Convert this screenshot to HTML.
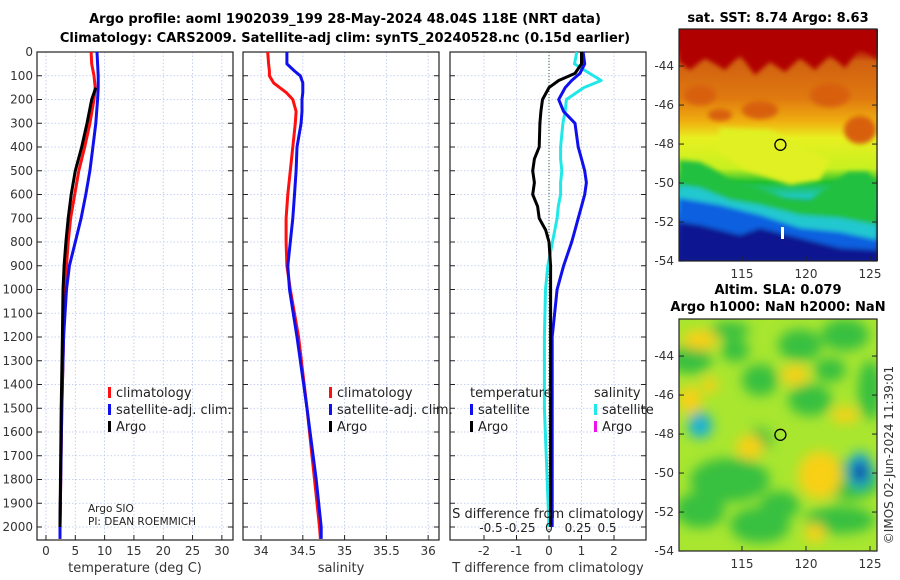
<!DOCTYPE html>
<html><head><meta charset="utf-8"><style>
html,body{margin:0;padding:0;background:#fff;}
svg{display:block;font-family:"DejaVu Sans","Liberation Sans",sans-serif;}
</style></head><body>
<svg id="fig" width="900" height="580" viewBox="0 0 900 580" xmlns="http://www.w3.org/2000/svg">
<defs>
<filter id="blur6" x="-20%" y="-20%" width="140%" height="140%"><feGaussianBlur stdDeviation="6"/></filter>
<filter id="blur3"><feGaussianBlur stdDeviation="2.5"/></filter>
<clipPath id="m1clip"><rect x="679" y="29" width="199" height="232"/></clipPath>
<clipPath id="m2clip"><rect x="679" y="319" width="198" height="232"/></clipPath>
<linearGradient id="sstgrad" x1="0" y1="0" x2="0" y2="1">
<stop offset="0" stop-color="#a80000"/><stop offset="0.08" stop-color="#b00000"/>
<stop offset="0.14" stop-color="#d06010"/><stop offset="0.3" stop-color="#e07a10"/>
<stop offset="0.4" stop-color="#f0b010"/><stop offset="0.47" stop-color="#e8f020"/>
<stop offset="0.6" stop-color="#c8f020"/><stop offset="0.66" stop-color="#20c030"/>
<stop offset="0.72" stop-color="#20c8c0"/><stop offset="0.78" stop-color="#10a0f0"/>
<stop offset="0.84" stop-color="#1040d0"/><stop offset="0.92" stop-color="#0a1fa0"/>
<stop offset="1" stop-color="#0a1888"/></linearGradient>
</defs>
<g font-weight="bold" font-size="13" text-anchor="middle">
<text x="345" y="23">Argo profile: aoml 1902039_199 28-May-2024 48.04S 118E (NRT data)</text>
<text x="345" y="42">Climatology: CARS2009. Satellite-adj clim: synTS_20240528.nc (0.15d earlier)</text>
</g>
<g id="panels"></g>
<g id="maps"></g>
</svg>
<script>
// ---- data ----
const climDepth = [0,50,100,150,200,300,400,500,600,700,800,900,1000,1200,1500,2000,2050];
const climTemp  = [7.7,7.8,8.2,8.4,8.2,7.5,6.6,5.6,4.9,4.2,3.8,3.5,3.3,3.0,2.7,2.4,2.4];
const satTemp   = [8.7,8.8,8.9,8.9,8.8,8.5,8.0,7.5,6.8,6.0,5.0,4.0,3.5,3.0,2.7,2.4,2.4];
const argoDepth = [150,200,300,400,500,600,700,800,900,1000,1200,1500,2000];
const argoTemp  = [8.5,7.8,7.0,6.1,5.0,4.3,3.8,3.4,3.1,2.9,2.8,2.6,2.4];
const salDepth  = [0,50,80,100,130,170,200,250,300,400,500,600,700,800,900,1000,1200,1500,1800,2000,2050];
const climSal   = [34.08,34.09,34.1,34.1,34.15,34.3,34.38,34.42,34.41,34.38,34.35,34.32,34.3,34.3,34.31,34.35,34.45,34.55,34.64,34.7,34.71];
const satSal    = [34.31,34.31,34.4,34.47,34.5,34.5,34.49,34.49,34.48,34.43,34.42,34.4,34.38,34.35,34.32,34.34,34.43,34.55,34.66,34.72,34.72];
const diffDepth = [0,50,90,120,150,200,250,300,400,450,500,550,600,650,700,750,800,900,1000,1200,1500,2000];
const argoTdiff = [1.0,1.0,0.8,0.3,0.0,-0.2,-0.25,-0.28,-0.3,-0.45,-0.5,-0.45,-0.5,-0.35,-0.3,-0.1,0.0,0.05,0.05,0.05,0.05,0.05];
const satTdiff  = [1.05,1.1,0.95,0.7,0.5,0.3,0.45,0.8,0.9,1.0,1.1,1.15,1.1,1.0,0.9,0.8,0.7,0.45,0.25,0.1,0.1,0.1];
const satSdiff  = [0.24,0.22,0.35,0.45,0.3,0.15,0.14,0.12,0.1,0.1,0.11,0.1,0.1,0.08,0.07,0.05,0.03,-0.01,-0.03,-0.04,-0.04,0];
const depthTicks = [0,100,200,300,400,500,600,700,800,900,1000,1100,1200,1300,1400,1500,1600,1700,1800,1900,2000];
const tempTicks = [0,5,10,15,20,25,30];
const salTicks = [34,34.5,35,35.5,36];
const salTickLabels = ["34","34.5","35","35.5","36"];
const tdiffTicks = [-2,-1,0,1,2];
const sdiffTicks = [-0.5,-0.25,0,0.25,0.5];
const sdiffLabels = ["-0.5","-0.25","0","0.25","0.5"];
const latTicks = [-44,-46,-48,-50,-52,-54];
const lonTicks = [115,120,125];
const argoLon = 118.0, argoLat = -48.04;

const NS="http://www.w3.org/2000/svg";
function mk(tag,attrs,parent){const e=document.createElementNS(NS,tag);for(const k in attrs)e.setAttribute(k,attrs[k]);parent.appendChild(e);return e;}
const panels=document.getElementById('panels');
const PT=52, PB=540;
const yD = d => 52 + d*0.2375;

function panel(name,x0,x1,xmin,xmax,ticks,labels,xlabel){
  const g=mk('g',{},panels);
  
  
  const sx=v=>x0+(v-xmin)/(xmax-xmin)*(x1-x0);
  depthTicks.forEach(d=>{mk('line',{x1:x0,x2:x1,y1:yD(d),y2:yD(d),stroke:'#b8c4ee','stroke-width':0.8,'stroke-dasharray':'1.5,2'},g);});
  ticks.forEach(t=>{mk('line',{x1:sx(t),x2:sx(t),y1:PT,y2:PB,stroke:'#b8c4ee','stroke-width':0.8,'stroke-dasharray':'1.5,2'},g);});
  mk('rect',{x:x0,y:PT,width:x1-x0,height:PB-PT,fill:'none',stroke:'#222','stroke-width':1.2},g);
  depthTicks.forEach(d=>{mk('line',{x1:x0,x2:x0+5,y1:yD(d),y2:yD(d),stroke:'#222'},g);mk('line',{x1:x1,x2:x1-5,y1:yD(d),y2:yD(d),stroke:'#222'},g);});
  ticks.forEach((t,i)=>{mk('line',{x1:sx(t),x2:sx(t),y1:PB,y2:PB-5,stroke:'#222'},g);
    const tx=mk('text',{x:sx(t),y:PB+15,'font-size':12,'text-anchor':'middle',fill:'#333'},g);tx.textContent=labels[i];
    
    });
  if(xlabel){const xl=mk('text',{x:(x0+x1)/2,y:572,'font-size':13,'text-anchor':'middle',fill:'#333'},g);xl.textContent=xlabel;
    
    }
  return {g,sx};
}
function line(g,sx,ds,vs,color,name){
  const pts=ds.map((d,i)=>sx(vs[i]).toFixed(1)+','+yD(d).toFixed(1)).join(' ');
  const p=mk('polyline',{points:pts,fill:'none',stroke:color,'stroke-width':3,'stroke-linejoin':'round'},g);
  
  
}
const yl=mk('g',{'font-size':12,'text-anchor':'end',fill:'#333'},panels);


depthTicks.forEach(d=>{const t=mk('text',{x:33,y:yD(d)+4},yl);t.textContent=d;});

const p1=panel('temperature',37,233,-1.53,31.9,tempTicks,tempTicks.map(String),'temperature (deg C)');
line(p1.g,p1.sx,climDepth,climTemp,'#ff1010','climatology-temp-line');
line(p1.g,p1.sx,climDepth,satTemp,'#1010ee','satellite-temp-line');
line(p1.g,p1.sx,argoDepth,argoTemp,'#000','argo-temp-line');
const p2=panel('salinity',243,439,33.784,36.13,salTicks,salTickLabels,'salinity');
line(p2.g,p2.sx,salDepth,climSal,'#ff1010','climatology-sal-line');
line(p2.g,p2.sx,salDepth,satSal,'#1010ee','satellite-sal-line');
const p3=panel('difference',450,646,-3.046,2.985,tdiffTicks,tdiffTicks.map(String),'T difference from climatology');
mk('line',{x1:p3.sx(0),x2:p3.sx(0),y1:PT,y2:PB,stroke:'#363','stroke-width':1,'stroke-dasharray':'1,2'},p3.g);
const sxS=v=>549+v*116;
line(p3.g,sxS,diffDepth,satSdiff,'#20e8e8','satellite-sal-diff-line');
line(p3.g,p3.sx,diffDepth,satTdiff,'#1010ee','satellite-temp-diff-line');
line(p3.g,p3.sx,diffDepth,argoTdiff,'#000','argo-temp-diff-line');
const sg=mk('g',{'font-size':12,'text-anchor':'middle',fill:'#222'},p3.g);


sdiffTicks.forEach((t,i)=>{const tx=mk('text',{x:sxS(t),y:532},sg);tx.textContent=sdiffLabels[i];});
const st=mk('text',{x:548,y:518,'font-size':13},sg);st.textContent='S difference from climatology';

function legend(items,x,y,name){
  const g=mk('g',{'font-size':13,fill:'#222'},panels);
  
  
  items.forEach((it,i)=>{
    if(it[1]) mk('rect',{x:x,y:y+i*17-10,width:3,height:11,fill:it[1]},g);
    const t=mk('text',{x:x+(it[1]?8:0),y:y+i*17},g);t.textContent=it[0];
  });
}
legend([['climatology','#ff1010'],['satellite-adj. clim.','#1010ee'],['Argo','#000']],108,397,'temperature-legend');
legend([['climatology','#ff1010'],['satellite-adj. clim.','#1010ee'],['Argo','#000']],329,397,'salinity-legend');
legend([['temperature',null],['satellite','#1010ee'],['Argo','#000']],470,397,'temp-diff-legend');
legend([['salinity',null],['satellite','#20e8e8'],['Argo','#ee10ee']],594,397,'sal-diff-legend');
const cr=mk('g',{'font-size':10.5,fill:'#222'},panels);


mk('text',{x:88,y:512},cr).textContent='Argo SIO';
mk('text',{x:88,y:525},cr).textContent='PI: DEAN ROEMMICH';

// ---- maps ----
const maps=document.getElementById('maps');
function mapAxes(name,top,bottom,latTop){
  const g=mk('g',{},maps);
  
  
  const lx=v=>742+(v-115)*12.8;
  const ly=v=>top+(latTop-v)*19.5;
  return {g,lx,ly,finish:()=>{
    mk('rect',{x:679,y:top,width:198,height:bottom-top,fill:'none',stroke:'#222','stroke-width':1.2},g);
    latTicks.forEach(l=>{mk('line',{x1:679,x2:684,y1:ly(l),y2:ly(l),stroke:'#222'},g);mk('line',{x1:877,x2:872,y1:ly(l),y2:ly(l),stroke:'#222'},g);
      const t=mk('text',{x:674,y:ly(l)+4,'font-size':12,'text-anchor':'end',fill:'#333'},g);t.textContent=l;});
    lonTicks.forEach(l=>{mk('line',{x1:lx(l),x2:lx(l),y1:bottom,y2:bottom-5,stroke:'#222'},g);
      const t=mk('text',{x:lx(l),y:bottom+17,'font-size':12,'text-anchor':'middle',fill:'#333'},g);t.textContent=l;});
    const c=mk('circle',{cx:lx(argoLon),cy:ly(argoLat),r:5.5,fill:'none',stroke:'#000','stroke-width':1.3},g);
    
    
  }};
}
// SST map
const m1=mapAxes('sst-map',29,261,-42.1);
const c1=mk('g',{'clip-path':'url(#m1clip)'},m1.g);
mk('rect',{x:679,y:29,width:199,height:232,fill:'url(#sstgrad)'},c1);
const b1=mk('g',{filter:'url(#blur3)'},c1);
// red top jagged
mk('path',{d:'M679,29 L878,29 L878,60 L860,48 L845,68 L830,55 L815,70 L800,58 L785,72 L770,62 L755,75 L740,55 L725,70 L705,58 L690,70 L679,62Z',fill:'#b00000'},b1);
[[700,95,16,10],[760,110,18,9],[830,95,20,12],[860,130,16,14],[720,115,12,6]].forEach(e=>mk('ellipse',{cx:e[0],cy:e[1],rx:e[2],ry:e[3],fill:'#d86010'},b1));
mk('path',{d:'M679,160 L700,162 L712,168 L730,180 L760,188 L785,198 L810,200 L830,185 L848,172 L868,172 L878,185 L878,255 L679,255Z',fill:'#20c040'},b1);
mk('path',{d:'M679,185 L700,188 L730,200 L760,205 L800,215 L840,218 L878,225 L878,261 L679,261Z',fill:'#20c8d0'},b1);
mk('path',{d:'M679,198 L720,205 L760,215 L800,228 L840,232 L878,240 L878,261 L679,261Z',fill:'#1060e0'},b1);
mk('path',{d:'M679,222 L700,225 L740,235 L760,228 L800,238 L840,248 L878,250 L878,261 L679,261Z',fill:'#0a1890'},b1);
mk('path',{d:'M720,128 L770,130 L810,150 L830,160 L820,180 L790,185 L745,170 L715,150Z',fill:'#e0f020'},b1);
mk('rect',{x:781,y:227,width:3,height:12,fill:'#fff'},c1);
m1.finish();
const t1=mk('text',{x:778,y:22,'font-size':13,'font-weight':'bold','text-anchor':'middle'},m1.g);t1.textContent='sat. SST: 8.74 Argo: 8.63';
// SLA map
const m2=mapAxes('sla-map',319,551,-42.1);
const c2=mk('g',{'clip-path':'url(#m2clip)'},m2.g);
mk('rect',{x:679,y:319,width:198,height:232,fill:'#a8e630'},c2);
const b2=mk('g',{filter:'url(#blur6)'},c2);
[[690,360,22,14],[735,350,14,12],[760,380,18,16],[800,345,22,16],[845,335,24,16],[760,440,12,12],[730,480,40,22],[700,510,25,18],[810,400,22,16],[850,480,30,20],[760,525,30,18],[840,520,35,14],[700,420,10,10],[730,330,20,8],[830,370,16,12],[870,390,12,30],[780,505,20,14]].forEach(e=>mk('ellipse',{cx:e[0],cy:e[1],rx:e[2],ry:e[3],fill:'#38c040'},b2));
[[690,400,12,14],[820,475,22,24],[750,447,14,12],[795,375,14,10],[700,340,18,10],[815,533,10,10],[710,385,8,8],[845,415,14,8]].forEach(e=>mk('ellipse',{cx:e[0],cy:e[1],rx:e[2],ry:e[3],fill:'#f8d018'},b2));
mk('ellipse',{cx:700,cy:426,rx:12,ry:12,fill:'#18b0d8'},b2);
mk('ellipse',{cx:860,cy:470,rx:12,ry:18,fill:'#18a8d8'},b2);
mk('ellipse',{cx:860,cy:472,rx:7,ry:10,fill:'#0a20a0'},b2);
m2.finish();
const t2a=mk('text',{x:778,y:294,'font-size':13,'font-weight':'bold','text-anchor':'middle'},m2.g);t2a.textContent='Altim. SLA: 0.079';
const t2b=mk('text',{x:778,y:311,'font-size':13,'font-weight':'bold','text-anchor':'middle'},m2.g);t2b.textContent='Argo h1000: NaN h2000: NaN';
const cp=mk('text',{x:0,y:0,'font-size':12,'text-anchor':'middle',fill:'#333',transform:'translate(893,455) rotate(-90)'},maps);cp.textContent='©IMOS 02-Jun-2024 11:39:01';


</script>
</body></html>
